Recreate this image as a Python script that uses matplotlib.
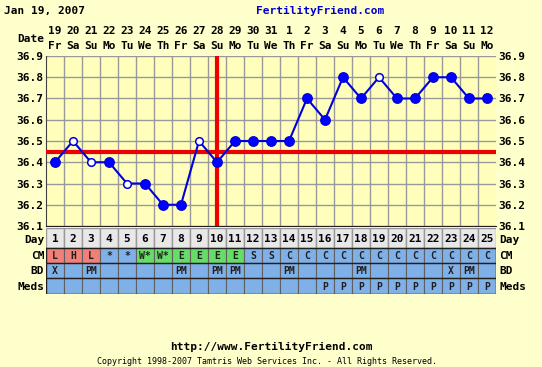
import matplotlib
matplotlib.use("Agg")
import matplotlib.pyplot as plt
import matplotlib.transforms as mtransforms

# chart data
days = list(range(1, 26))
dates = ["19", "20", "21", "22", "23", "24", "25", "26", "27", "28", "29", "30", "31",
         "1", "2", "3", "4", "5", "6", "7", "8", "9", "10", "11", "12"]
weekdays = ["Fr", "Sa", "Su", "Mo", "Tu", "We", "Th", "Fr", "Sa", "Su", "Mo", "Tu", "We",
            "Th", "Fr", "Sa", "Su", "Mo", "Tu", "We", "Th", "Fr", "Sa", "Su", "Mo"]
temps = [36.4, 36.5, 36.4, 36.4, 36.3, 36.3, 36.2, 36.2, 36.5, 36.4, 36.5, 36.5, 36.5,
         36.5, 36.7, 36.6, 36.8, 36.7, 36.8, 36.7, 36.7, 36.8, 36.8, 36.7, 36.7]
open_days = [2, 3, 5, 9, 19]
coverline = 36.45
ovulation_day = 10
cm = ["L", "H", "L", "*", "*", "W*", "W*", "E", "E", "E", "E", "S", "S",
      "C", "C", "C", "C", "C", "C", "C", "C", "C", "C", "C", "C"]
bd = ["X", "", "PM", "", "", "", "", "PM", "", "PM", "PM", "", "",
      "PM", "", "", "", "PM", "", "", "", "", "X", "PM", ""]
meds = [""] * 15 + ["P"] * 10
y_ticks = [36.1, 36.2, 36.3, 36.4, 36.5, 36.6, 36.7, 36.8, 36.9]

W, H = 542, 367
BG = "#FFFFCC"
PLOT_BG = "#FFFFBB"
BLUE = "#80B0E8"
RED_CELL = "#F08078"
GREEN_CELL = "#66DD66"
MONO = "DejaVu Sans Mono"
FS = 8

fig = plt.figure(figsize=(W / 100, H / 100), dpi=100, facecolor=BG)


def box(l, t, r, b):
    # pixel box -> figure fraction
    return [l / W, 1 - b / H, (r - l) / W, (b - t) / H]


# ---- temperature chart ----
ax = fig.add_axes(box(46, 56, 496, 226))
ax.set_facecolor(PLOT_BG)
ax.set_xlim(0.5, 25.5)
ax.set_ylim(36.1, 36.9)
ax.set_xticks([])
ax.set_xticks([d + 0.5 for d in days[:-1]], minor=True)
ax.set_yticks(y_ticks)
ax.set_yticklabels([f"{t:.1f}" for t in y_ticks])
ax.tick_params(axis="y", length=0, pad=2, labelright=True, labelsize=FS)
ax.tick_params(axis="x", which="minor", length=0)
for lab in ax.get_yticklabels():
    lab.set_fontfamily(MONO)
    lab.set_fontweight("bold")
ax.grid(True, which="minor", axis="x", color="#999999", lw=1)
ax.grid(True, which="major", axis="y", color="#999999", lw=1)
for s in ["top", "right"]:
    ax.spines[s].set_visible(False)
ax.spines["left"].set_color("#404040")
ax.spines["bottom"].set_color("#202020")

ax.axhline(coverline, color="#EE0000", lw=3, zorder=3)
ax.axvline(ovulation_day, color="#EE0000", lw=3, zorder=3)

ax.plot(days, temps, color="#0000DD", lw=1.5, zorder=4)
filled_x = [d for d in days if d not in open_days]
filled_y = [temps[d - 1] for d in filled_x]
open_y = [temps[d - 1] for d in open_days]
ax.plot(filled_x, filled_y, "o", ms=6.8, color="#0000FF", mec="#0000DD", zorder=5)
ax.plot(open_days, open_y, "o", ms=5.5, mfc="white", mec="#0000DD", mew=1.1, zorder=5)

# date header
trans = mtransforms.blended_transform_factory(ax.transData, ax.transAxes)
for d, dt, wd in zip(days, dates, weekdays):
    ax.text(d, 1.145, dt, transform=trans, ha="center", va="center",
            family=MONO, weight="bold", fontsize=FS)
    ax.text(d, 1.06, wd, transform=trans, ha="center", va="center",
            family=MONO, weight="bold", fontsize=FS)
ax.text(-0.004, 1.10, "Date", transform=ax.transAxes, ha="right", va="center",
        family=MONO, weight="bold", fontsize=FS)

# ---- table below ----
tb = fig.add_axes(box(46, 228, 496, 294))
tb.set_xlim(0.5, 25.5)
tb.set_ylim(66, 0)
tb.axis("off")

rows = [("Day", 0, 20), ("CM", 20, 35), ("BD", 35, 50), ("Meds", 50, 66)]


def cm_color(v):
    if v in ("L", "H"):
        return RED_CELL
    if v in ("W*", "E"):
        return GREEN_CELL
    return BLUE


tb.bar(days, 20, bottom=0, width=1, color="#E8E8E8", edgecolor="#999999", lw=1)
tb.bar(days, 15, bottom=20, width=1, color=[cm_color(v) for v in cm],
       edgecolor="#606060", lw=0.8)
tb.bar(days, 15, bottom=35, width=1, color=BLUE, edgecolor="#606060", lw=0.8)
tb.bar(days, 16, bottom=50, width=1, color=BLUE, edgecolor="#606060", lw=0.8)
for yb in [20, 35, 50, 66]:
    tb.plot([0.5, 25.5], [yb, yb], color="#202020", lw=1)
tb.plot([0.5, 0.5], [20, 66], color="#202020", lw=1)
tb.plot([25.5, 25.5], [20, 66], color="#202020", lw=1)

for d in days:
    tb.text(d, 11.5, str(d), ha="center", va="center", family=MONO,
            weight="bold", fontsize=FS)
    tb.text(d, 28, cm[d - 1], ha="center", va="center", family=MONO,
            weight="bold", fontsize=7, color="#202020")
    tb.text(d, 43, bd[d - 1], ha="center", va="center", family=MONO,
            weight="bold", fontsize=7, color="#202020")
    tb.text(d, 58.5, meds[d - 1], ha="center", va="center", family=MONO,
            weight="bold", fontsize=7, color="#202020")

ttrans = mtransforms.blended_transform_factory(tb.transAxes, tb.transData)
for name, y0, y1 in rows:
    yc = (y0 + y1) / 2 + (2 if name == "Day" else 0.5)
    tb.text(-0.004, yc, name, transform=ttrans, ha="right", va="center",
            family=MONO, weight="bold", fontsize=FS)
    tb.text(1.008, yc, name, transform=ttrans, ha="left", va="center",
            family=MONO, weight="bold", fontsize=FS)

# ---- titles / footer ----
fig.text(4 / W, 1 - 11 / H, "Jan 19, 2007", ha="left", va="center",
         family=MONO, weight="bold", fontsize=FS)
fig.text(320 / W, 1 - 11 / H, "FertilityFriend.com", ha="center", va="center",
         family=MONO, weight="bold", fontsize=FS, color="#0000CC")
fig.text(271 / W, 1 - 347 / H, "http://www.FertilityFriend.com", ha="center",
         va="center", family=MONO, weight="bold", fontsize=FS)
fig.text(267 / W, 1 - 362 / H,
         "Copyright 1998-2007 Tamtris Web Services Inc. - All Rights Reserved.",
         ha="center", va="center", family=MONO, fontsize=6)

fig.savefig("out.png", dpi=100, facecolor=BG)
